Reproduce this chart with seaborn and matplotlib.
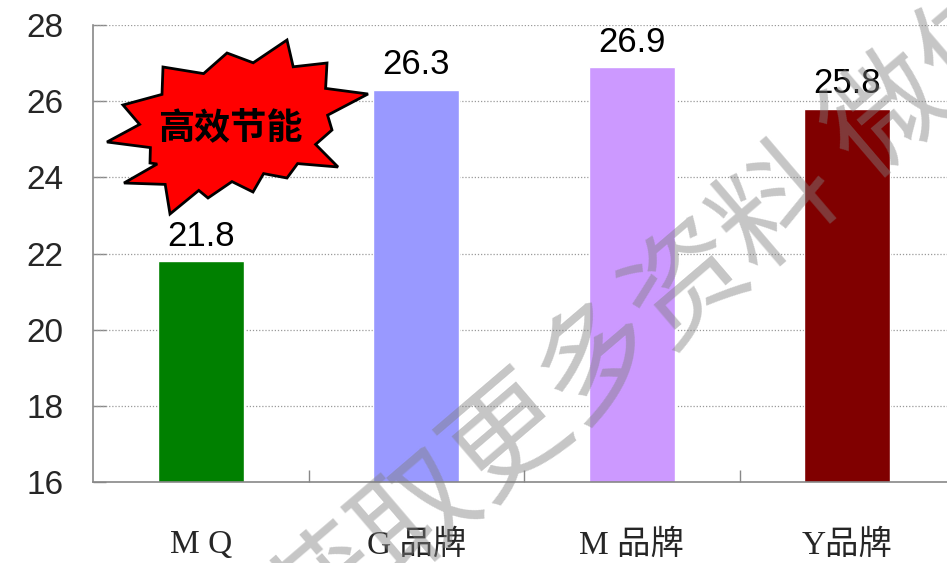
import numpy as np
import pandas as pd
import matplotlib
matplotlib.use("Agg")
import matplotlib.pyplot as plt
from matplotlib.patches import Polygon
import seaborn as sns

# chart data
brands = ["M Q", "G 品牌", "M 品牌", "Y品牌"]
values = [21.8, 26.3, 26.9, 25.8]
bar_colors = ["#008000", "#9999FF", "#CC99FF", "#800000"]
y_ticks = [16, 18, 20, 22, 24, 26, 28]

badge_text = "高效节能"
watermark_text = "获取更多资料 微信"

# starburst outline in pixel coords (y down), outer spike tips
burst_tips = [(287, 40), (327, 63), (368, 94), (332, 130), (338, 167),
              (287, 178), (253, 192), (208, 198), (170, 214), (124, 183),
              (150, 163), (107, 142), (123, 105), (163, 67), (227, 53)]
burst_center = (238, 128)

sns.set_theme(style="white")
plt.rcParams["font.family"] = ["Liberation Sans", "Noto Sans CJK SC"]

W, H = 947, 563
fig = plt.figure(figsize=(W / 100, H / 100), dpi=100)
ax = fig.add_axes([93 / W, 1 - 482 / H, (955 - 93) / W, (482 - 25) / H])

df = pd.DataFrame({"brand": brands, "value": values})
sns.barplot(data=df, x="brand", y="value", hue="brand", palette=bar_colors,
            width=0.4, legend=False, saturation=1, ax=ax, zorder=2)

for c in ax.containers:
    ax.bar_label(c, fmt="%.1f", padding=6, fontsize=25, color="black")

ax.set_ylim(16, 28)
ax.set_xlim(-0.5, 3.5)
ax.set_yticks(y_ticks)
ax.set_xlabel("")
ax.set_ylabel("")

# dotted grid
for t in y_ticks[1:]:
    ax.axhline(t, color="#999999", lw=0.9, ls=(0, (1, 1.5)), zorder=1)

for s in ["top", "right"]:
    ax.spines[s].set_visible(False)
for s in ["left", "bottom"]:
    ax.spines[s].set_color("#888888")
    ax.spines[s].set_linewidth(1.2)

ax.tick_params(axis="y", which="major", direction="in", length=9, width=1,
               color="#888888", labelsize=24, pad=21, left=True)
ax.set_xticks([0.5, 1.5, 2.5], minor=True)
ax.tick_params(axis="x", which="minor", direction="in", length=9, width=1,
               color="#888888", bottom=True)
ax.tick_params(axis="x", which="major", length=0, pad=34)
ax.set_xticks(range(len(brands)))
ax.set_xticklabels(brands, fontsize=24,
                   family=["Liberation Serif", "Noto Sans CJK SC"])

# starburst badge
cx, cy = burst_center
pts = []
n = len(burst_tips)
for i in range(n):
    x0, y0 = burst_tips[i]
    x1, y1 = burst_tips[(i + 1) % n]
    pts.append((x0, y0))
    mx, my = (x0 + x1) / 2, (y0 + y1) / 2
    pts.append((cx + 0.8 * (mx - cx), cy + 0.8 * (my - cy)))
pts = [(x / W, 1 - y / H) for x, y in pts]
fig.patches.append(Polygon(pts, closed=True, facecolor="#FF0000",
                           edgecolor="black", lw=2, transform=fig.transFigure,
                           zorder=5))
fig.text(230 / W, 1 - 128 / H, badge_text, ha="center", va="center",
         fontsize=26, fontweight="bold", color="black",
         family=["Noto Sans CJK SC"], zorder=6)

# watermark
fig.text(655 / W, 1 - 318 / H, watermark_text, ha="center", va="center",
         rotation=40.5, rotation_mode="anchor", fontsize=85,
         color="#808080", alpha=0.45, family=["Noto Sans CJK SC"], zorder=10)

fig.savefig("out.png", dpi=100)
